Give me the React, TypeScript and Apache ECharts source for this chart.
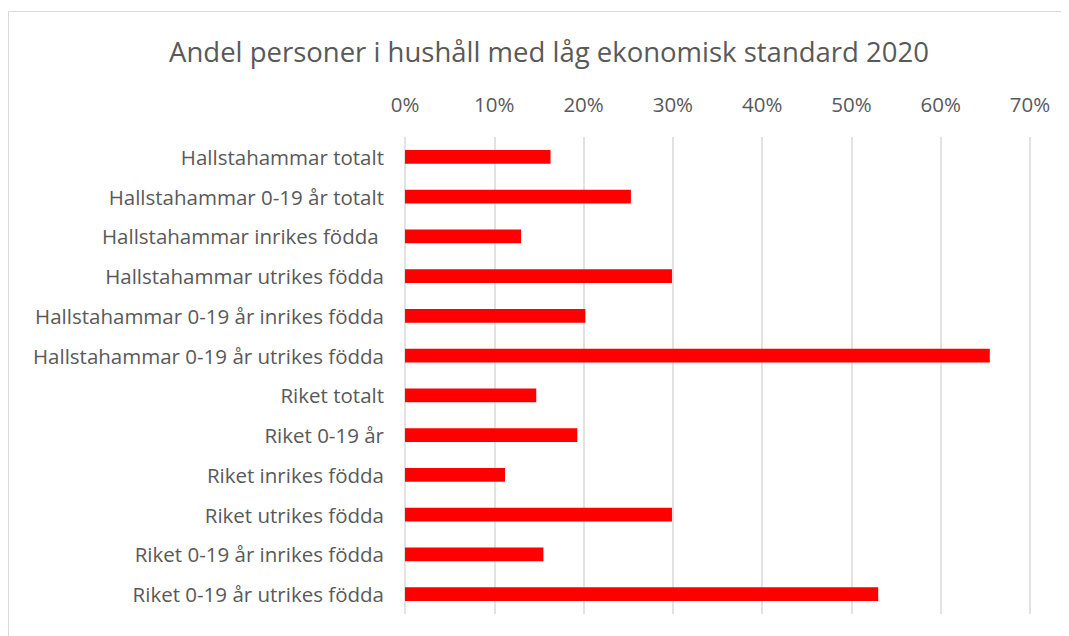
import React, { useEffect, useRef } from "react";
import * as echarts from "echarts";

const categories = [
  "Hallstahammar totalt",
  "Hallstahammar 0-19 år totalt",
  "Hallstahammar inrikes födda ",
  "Hallstahammar utrikes födda",
  "Hallstahammar 0-19 år inrikes födda",
  "Hallstahammar 0-19 år utrikes födda",
  "Riket totalt",
  "Riket 0-19 år",
  "Riket inrikes födda",
  "Riket utrikes födda",
  "Riket 0-19 år inrikes födda",
  "Riket 0-19 år utrikes födda",
];

const values = [
  0.163, 0.253, 0.130, 0.299, 0.202, 0.655, 0.147, 0.193, 0.112, 0.299, 0.155, 0.530,
];

const titleText = "Andel personer i hushåll med låg ekonomisk standard 2020";
const FONT = "'Open Sans', 'Noto Sans', sans-serif";
const TEXT = "#595959";

export default function App() {
  const ref = useRef<HTMLDivElement>(null);
  useEffect(() => {
    if (!ref.current) return;
    const chart = echarts.init(ref.current, undefined, { renderer: "svg" });
    chart.setOption({
      animation: false,
      backgroundColor: "#ffffff",
      textStyle: { fontFamily: FONT },
      title: {
        text: titleText,
        left: 536,
        top: 24,
        textAlign: "center",
        textStyle: { fontFamily: FONT, fontSize: 27.5, fontWeight: "normal", color: TEXT },
      },
      graphic: [
        {
          type: "rect",
          shape: { x: 0.5, y: 3.5, width: 1200, height: 800 },
          style: { fill: "none", stroke: "#d9d9d9", lineWidth: 1 },
          silent: true,
        },
      ],
      grid: { left: 397, right: 39, top: 129, bottom: 22, containLabel: false },
      xAxis: {
        type: "value",
        position: "top",
        min: 0,
        max: 0.7,
        interval: 0.1,
        axisLine: { show: false },
        axisTick: { show: false },
        axisLabel: {
          margin: 23,
          fontFamily: FONT,
          fontSize: 20.5,
          color: TEXT,
          formatter: (v: number) => `${Math.round(v * 100)}%`,
        },
        splitLine: { show: true, lineStyle: { color: "#d9d9d9", width: 1.5 } },
      },
      yAxis: {
        type: "category",
        inverse: true,
        data: categories,
        axisLine: { show: false },
        axisTick: { show: false },
        axisLabel: { margin: 21, fontFamily: FONT, fontSize: 20.5, color: TEXT },
      },
      series: [
        {
          type: "bar",
          data: values,
          barWidth: "35%",
          itemStyle: { color: "#ff0000" },
        },
      ],
    });
    return () => chart.dispose();
  }, []);
  return <div ref={ref} style={{ width: 1061, height: 628 }} />;
}
